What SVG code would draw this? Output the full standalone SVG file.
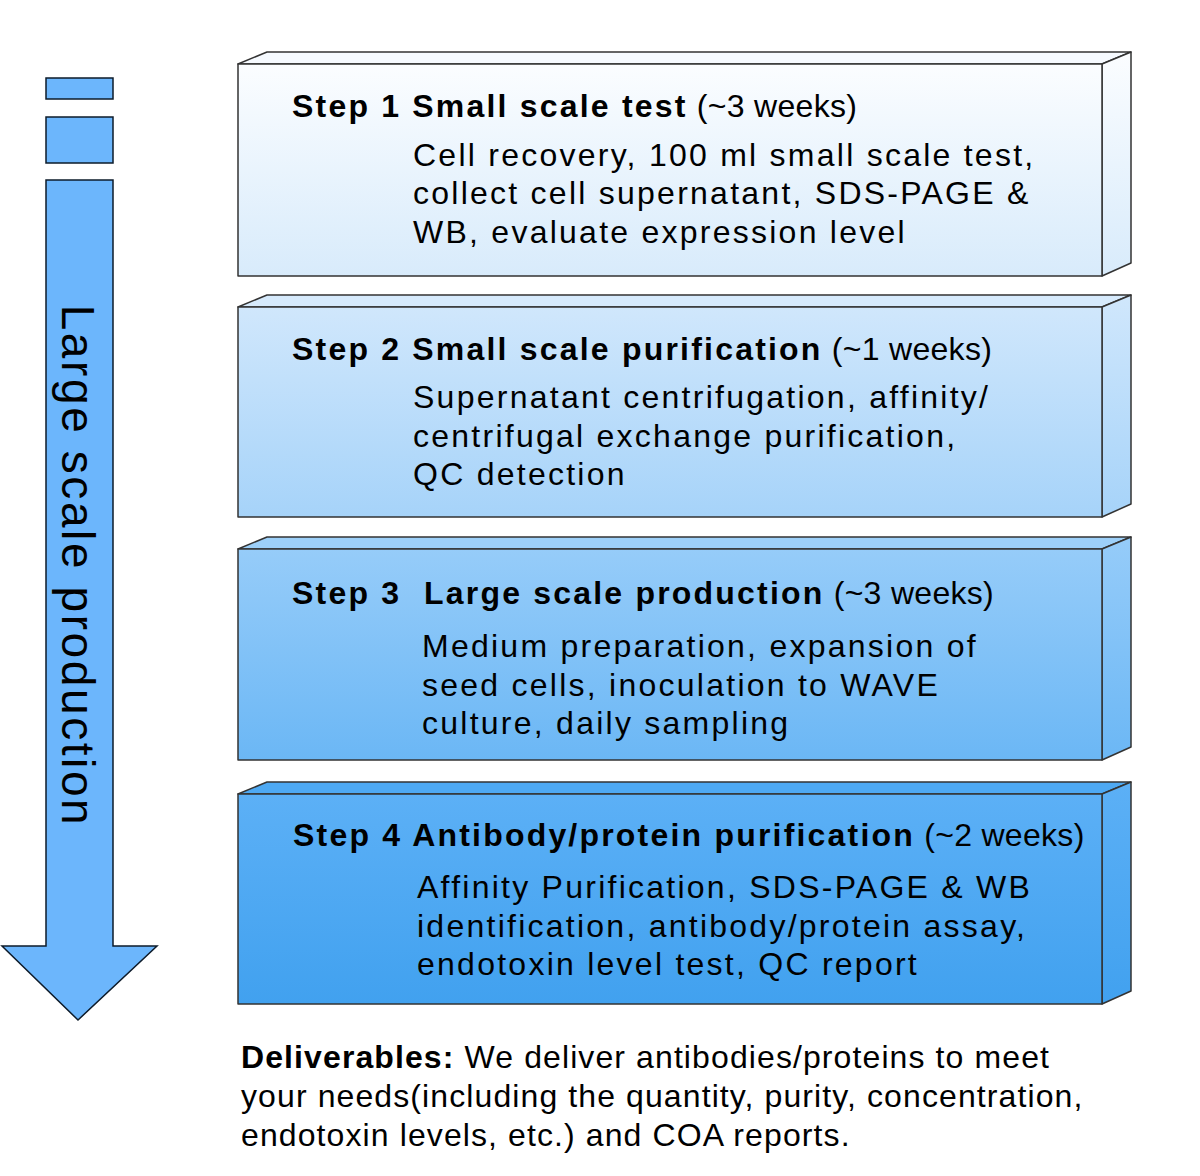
<svg xmlns="http://www.w3.org/2000/svg" width="1200" height="1176" viewBox="0 0 1200 1176">
<style>
.t{font-family:"Liberation Sans",Arial,sans-serif;font-size:32px;fill:#000;letter-spacing:2.25px}
.b{font-weight:bold;letter-spacing:2.2px}
.w{letter-spacing:0.3px}
.d{letter-spacing:1.1px}
.edge{stroke:#333;stroke-width:1.5;stroke-linejoin:round}
.arr{fill:#6cb6fc;stroke:#0d1b2a;stroke-width:1.5;stroke-linejoin:miter}
</style>
<defs>
<linearGradient id="g1" x1="0" y1="0" x2="0" y2="1"><stop offset="0" stop-color="#fbfdff"/><stop offset="1" stop-color="#d8ebfb"/></linearGradient>
<linearGradient id="g2" x1="0" y1="0" x2="0" y2="1"><stop offset="0" stop-color="#d0e7fc"/><stop offset="1" stop-color="#a6d3f9"/></linearGradient>
<linearGradient id="g3" x1="0" y1="0" x2="0" y2="1"><stop offset="0" stop-color="#96ccf9"/><stop offset="1" stop-color="#6bb7f5"/></linearGradient>
<linearGradient id="g4" x1="0" y1="0" x2="0" y2="1"><stop offset="0" stop-color="#5cb0f6"/><stop offset="1" stop-color="#41a1ef"/></linearGradient>
</defs>
<rect width="1200" height="1176" fill="#fff"/>

<g id="arrow">
<rect class="arr" x="46" y="78" width="67" height="21"/>
<rect class="arr" x="46" y="117" width="67" height="46"/>
<polygon class="arr" points="46,180 113,180 113,946 157,946 78,1020 2,946 46,946"/>
<text class="t" style="font-size:46px;letter-spacing:2.6px" text-anchor="middle" transform="translate(62,566) rotate(90)">Large scale production</text>
</g>

<g id="step1">
<polygon class="edge" fill="#f6faff" points="238,64 267,52 1131,52 1102,64"/>
<polygon class="edge" fill="url(#g1)" points="1102,64 1131,52 1131,263 1102,276"/>
<rect class="edge" fill="url(#g1)" x="238" y="64" width="864" height="212"/>
<text class="t" x="292" y="117"><tspan class="b">Step 1 Small scale test</tspan><tspan class="w"> (~3 weeks)</tspan></text>
<text class="t" x="413" y="166">Cell recovery, 100 ml small scale test,</text>
<text class="t" x="413" y="204">collect cell supernatant, SDS-PAGE &amp;</text>
<text class="t" x="413" y="243">WB, evaluate expression level</text>
</g>

<g id="step2">
<polygon class="edge" fill="#d6eafc" points="238,307 267,295 1131,295 1102,307"/>
<polygon class="edge" fill="url(#g2)" points="1102,307 1131,295 1131,504 1102,517"/>
<rect class="edge" fill="url(#g2)" x="238" y="307" width="864" height="210"/>
<text class="t" x="292" y="360"><tspan class="b">Step 2 Small scale purification</tspan><tspan class="w"> (~1 weeks)</tspan></text>
<text class="t" x="413" y="408">Supernatant centrifugation, affinity/</text>
<text class="t" x="413" y="447">centrifugal exchange purification,</text>
<text class="t" x="413" y="485">QC detection</text>
</g>

<g id="step3">
<polygon class="edge" fill="#9dd0f9" points="238,549 267,537 1131,537 1102,549"/>
<polygon class="edge" fill="url(#g3)" points="1102,549 1131,537 1131,747 1102,760"/>
<rect class="edge" fill="url(#g3)" x="238" y="549" width="864" height="211"/>
<text class="t" x="292" y="604"><tspan class="b">Step 3 </tspan><tspan class="b" x="424">Large scale production</tspan><tspan class="w"> (~3 weeks)</tspan></text>
<text class="t" x="422" y="657">Medium preparation, expansion of</text>
<text class="t" x="422" y="696">seed cells, inoculation to WAVE</text>
<text class="t" x="422" y="734">culture, daily sampling</text>
</g>

<g id="step4">
<polygon class="edge" fill="#4ea9f3" points="238,794 267,782 1131,782 1102,794"/>
<polygon class="edge" fill="url(#g4)" points="1102,794 1131,782 1131,991 1102,1004"/>
<rect class="edge" fill="url(#g4)" x="238" y="794" width="864" height="210"/>
<text class="t" x="293" y="846"><tspan class="b">Step 4 Antibody/protein purification</tspan><tspan class="w"> (~2 weeks)</tspan></text>
<text class="t" x="417" y="898">Affinity Purification, SDS-PAGE &amp; WB</text>
<text class="t" x="417" y="937">identification, antibody/protein assay,</text>
<text class="t" x="417" y="975">endotoxin level test, QC report</text>
</g>

<g id="deliverables">
<text class="t d" x="241" y="1068"><tspan class="b d">Deliverables:</tspan> We deliver antibodies/proteins to meet</text>
<text class="t d" x="241" y="1107">your needs(including the quantity, purity, concentration,</text>
<text class="t d" x="241" y="1146">endotoxin levels, etc.) and COA reports.</text>
</g>
<g id="connectors"/>
</svg>
